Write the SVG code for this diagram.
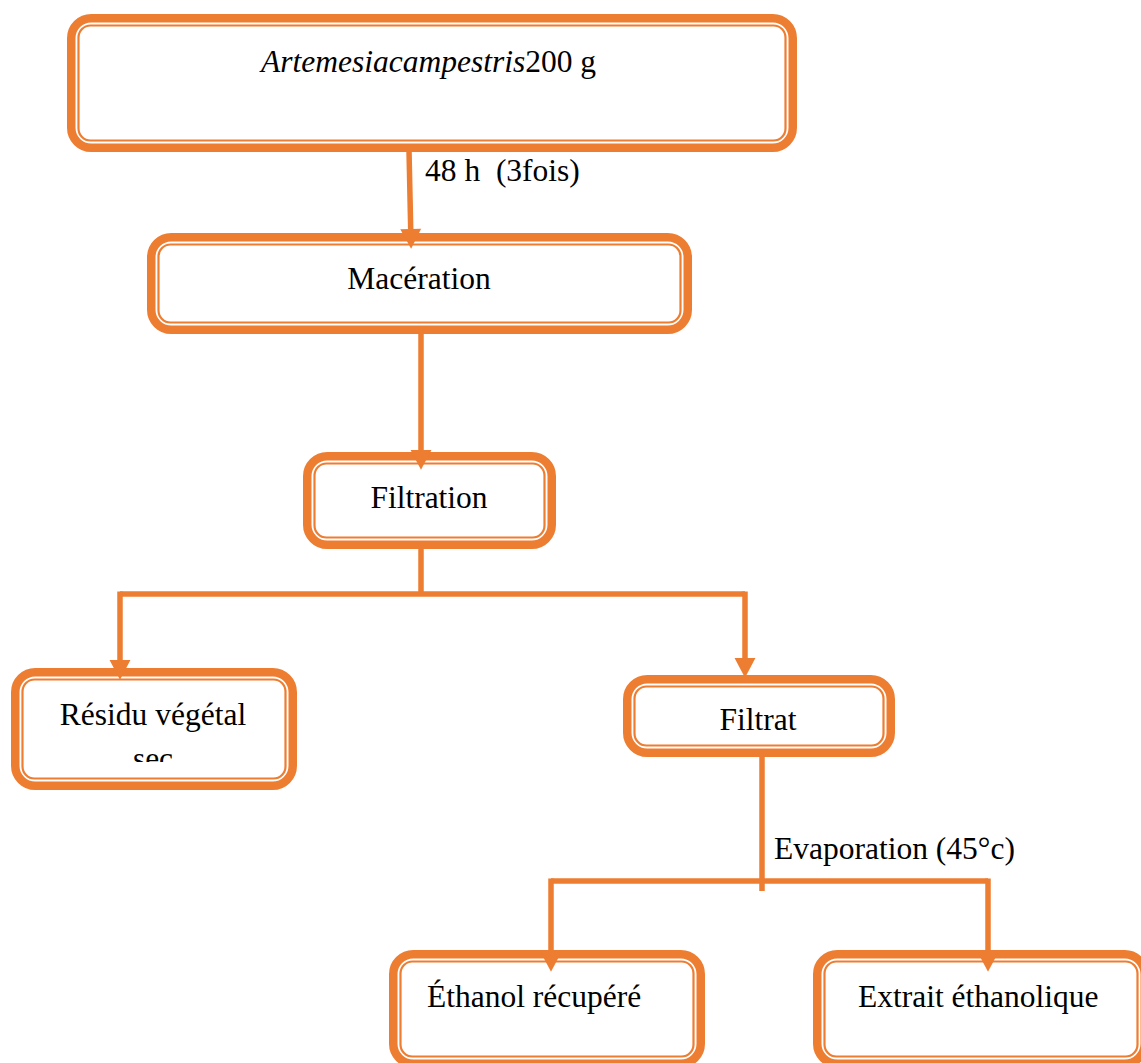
<svg xmlns="http://www.w3.org/2000/svg" width="1141" height="1063" viewBox="0 0 1141 1063">
<style>
.o{fill:#fff;stroke:#ED7D31;stroke-width:8.5}
.i{fill:none;stroke:#ED7D31;stroke-width:2.2}
.t{font-family:"Liberation Serif","Times New Roman",serif;font-size:31.5px;fill:#000}
.c{fill:none;stroke:#ED7D31;stroke-width:5.5}
</style>
<defs>
<marker id="ah" markerUnits="userSpaceOnUse" markerWidth="20" markerHeight="22" viewBox="0 -10 18 20" refX="0" refY="0" orient="auto" overflow="visible">
<path d="M0,-9.5 L18,0 L0,9.5 z" fill="#ED7D31"/>
</marker>
<clipPath id="secclip"><rect x="0" y="730" width="300" height="32"/></clipPath>
</defs>
<rect width="1141" height="1063" fill="#fff"/>
<g id="n-top">
<rect class="o" x="71.25" y="18.25" width="721.5" height="129.5" rx="20"/>
<rect class="i" x="78.5" y="25.5" width="707" height="115" rx="12"/>
<text class="t" x="261" y="72"><tspan font-style="italic">Artemesiacampestris</tspan>200 g</text>
</g>
<g id="n-maceration">
<rect class="o" x="151.25" y="237.25" width="536.5" height="92.5" rx="20"/>
<rect class="i" x="158.5" y="244.5" width="522" height="78" rx="12"/>
<text class="t" x="419" y="289" text-anchor="middle">Macération</text>
</g>
<g id="n-filtration">
<rect class="o" x="307.25" y="456.25" width="244.5" height="88.5" rx="20"/>
<rect class="i" x="314.5" y="463.5" width="230" height="74" rx="12"/>
<text class="t" x="429" y="508" text-anchor="middle">Filtration</text>
</g>
<g id="n-residu">
<rect class="o" x="15.25" y="672.25" width="277.5" height="113.5" rx="20"/>
<rect class="i" x="22.5" y="679.5" width="263" height="99" rx="12"/>
<text class="t" x="153" y="725" text-anchor="middle">Résidu végétal</text>
<text class="t" x="153" y="769" text-anchor="middle" clip-path="url(#secclip)">sec</text>
</g>
<g id="n-filtrat">
<rect class="o" x="627.25" y="679.25" width="263.5" height="73.5" rx="20"/>
<rect class="i" x="634.5" y="686.5" width="249" height="59" rx="12"/>
<text class="t" x="758" y="730" text-anchor="middle">Filtrat</text>
</g>
<g id="n-ethanol">
<rect class="o" x="393.25" y="954.25" width="307.5" height="109.5" rx="20"/>
<rect class="i" x="400.5" y="961.5" width="293" height="95" rx="12"/>
<text class="t" x="427" y="1007">Éthanol récupéré</text>
</g>
<g id="n-extrait">
<rect class="o" x="817.25" y="954.25" width="327.5" height="109.5" rx="20"/>
<rect class="i" x="824.5" y="961.5" width="313" height="95" rx="12"/>
<text class="t" x="858" y="1007">Extrait éthanolique</text>
</g>
<g id="connectors">
<path class="c" d="M409,150 L410.7,229" marker-end="url(#ah)"/>
<path class="c" d="M421,332 L421,450" marker-end="url(#ah)"/>
<path class="c" d="M421,547 L421,594 M120,594 L745,594"/>
<path class="c" d="M120,591.5 L120,660" marker-end="url(#ah)"/>
<path class="c" d="M745,591.5 L745,658" marker-end="url(#ah)"/>
<path class="c" d="M762,755 L762,891 M551,881 L988,881"/>
<path class="c" d="M551,878.5 L551,952" marker-end="url(#ah)"/>
<path class="c" d="M988,878.5 L988,952" marker-end="url(#ah)"/>
<text class="t" x="425" y="181" xml:space="preserve">48 h  (3fois)</text>
<text class="t" x="774" y="859">Evaporation (45°c)</text>
</g>
</svg>
